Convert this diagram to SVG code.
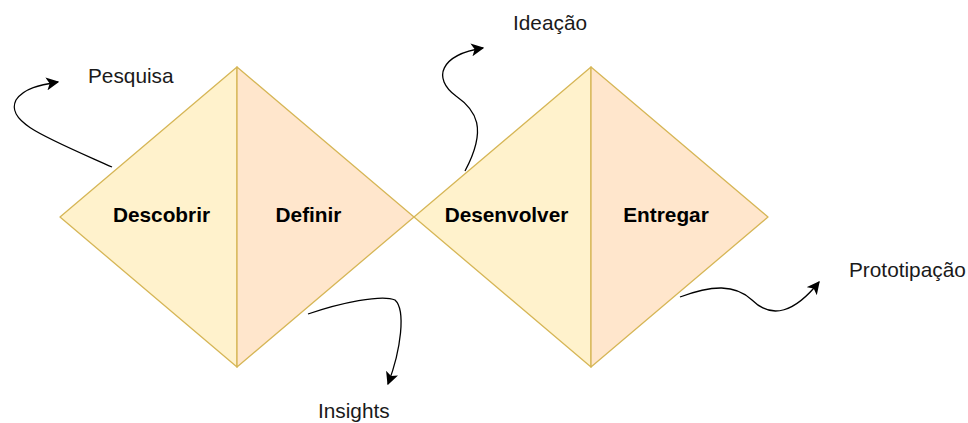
<svg xmlns="http://www.w3.org/2000/svg" width="968" height="423" viewBox="0 0 968 423">
<style>
.y{fill:#fff2cc;stroke:#d6b656;stroke-width:1.3;stroke-linejoin:round}
.o{fill:#ffe6cc;stroke:#d6b656;stroke-width:1.3;stroke-linejoin:round}
.b{font-family:"Liberation Sans",Arial,sans-serif;font-size:20.8px;font-weight:bold;fill:#000;text-anchor:middle}
.t{font-family:"Liberation Sans",Arial,sans-serif;font-size:20.8px;fill:#1a1a1a}
.c{fill:none;stroke:#000;stroke-width:1.3}
</style>
<defs>
<marker id="ah" viewBox="0 0 10 10" refX="9" refY="5" markerWidth="13" markerHeight="13" markerUnits="userSpaceOnUse" orient="auto">
<path d="M0,0 L10,5 L0,10 L2.5,5 Z" fill="#000"/>
</marker>
</defs>
<g id="descobrir">
<path class="y" d="M237,67 L60,217 L237,367 Z"/>
<text class="b" x="161.5" y="222">Descobrir</text>
</g>
<g id="definir">
<path class="o" d="M237,67 L414,217 L237,367 Z"/>
<text class="b" x="308.5" y="222">Definir</text>
</g>
<g id="desenvolver">
<path class="y" d="M591,67 L414,217 L591,367 Z"/>
<text class="b" x="506.5" y="222">Desenvolver</text>
</g>
<g id="entregar">
<path class="o" d="M591,67 L768,217 L591,367 Z"/>
<text class="b" x="666" y="222">Entregar</text>
</g>
<g id="pesquisa"><text class="t" x="88" y="83">Pesquisa</text></g>
<g id="ideacao"><text class="t" x="513" y="30">Ideação</text></g>
<g id="insights"><text class="t" x="318" y="418">Insights</text></g>
<g id="prototipacao"><text class="t" x="849" y="277">Prototipação</text></g>
<g id="connectors">
<path class="c" marker-end="url(#ah)" d="M112,167 C45,137 5,122 16,100 C24,88 40,85 58,82"/>
<path class="c" marker-end="url(#ah)" d="M308,314 C340,303 382,294 395,300 C406,310 401,350 388,384"/>
<path class="c" marker-end="url(#ah)" d="M465,171 C488,128 476,110 456,96 C432,78 440,55 483,48"/>
<path class="c" marker-end="url(#ah)" d="M680,297 C712,285 735,284 752,300 C772,320 795,312 819,282"/>
</g>
</svg>
